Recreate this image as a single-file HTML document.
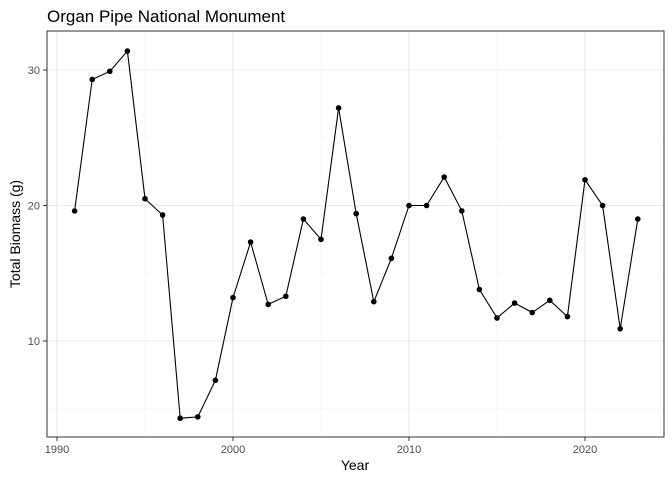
<!DOCTYPE html>
<html><head><meta charset="utf-8"><style>
body{margin:0;background:#fff;font-family:"Liberation Sans",Arial,sans-serif;}
svg text{font-family:"Liberation Sans",Arial,sans-serif;}
</style></head><body>
<svg id="chart" width="672" height="480" xmlns="http://www.w3.org/2000/svg">
<rect width="672" height="480" fill="#fff"/>
<text x="47" y="22" font-size="17" fill="#000">Organ Pipe National Monument</text>
<g id="grid"></g><g id="series"></g>
<rect x="47" y="31" width="617" height="406" fill="none" stroke="#333" stroke-width="1"/>
<g id="axes"></g>
<text x="355" y="470" font-size="14" text-anchor="middle">Year</text>
<text transform="translate(20,234) rotate(-90)" font-size="14" text-anchor="middle">Total Biomass (g)</text>
</svg>
<script>
const years=[1991,1992,1993,1994,1995,1996,1997,1998,1999,2000,2001,2002,2003,2004,2005,2006,2007,2008,2009,2010,2011,2012,2013,2014,2015,2016,2017,2018,2019,2020,2021,2022,2023];
const biomass=[19.6,29.3,29.9,31.4,20.5,19.3,4.3,4.4,7.1,13.2,17.3,12.7,13.3,19.0,17.5,27.2,19.4,12.9,16.1,20.0,20.0,22.1,19.6,13.8,11.7,12.8,12.1,13.0,11.8,21.9,20.0,10.9,19.0];
const xTicks=[1990,2000,2010,2020];
const yTicks=[10,20,30];
const xMinor=[1995,2005,2015];
const yMinor=[5,15,25];
const X=v=>57+(v-1990)*17.6;
const Y=v=>70+(30-v)*13.55;
const NS="http://www.w3.org/2000/svg";
function mk(t,a,p){const e=document.createElementNS(NS,t);for(const k in a)e.setAttribute(k,a[k]);p.appendChild(e);return e;}
const g=document.getElementById('grid'),ax=document.getElementById('axes'),s=document.getElementById('series');
xMinor.forEach(v=>{const e=mk('line',{x1:X(v),x2:X(v),y1:31,y2:437,stroke:'#f2f2f2','stroke-width':0.6},g);

});
yMinor.forEach(v=>{const e=mk('line',{x1:47,x2:664,y1:Y(v),y2:Y(v),stroke:'#f2f2f2','stroke-width':0.6},g);

});
xTicks.forEach(v=>{const e=mk('line',{x1:X(v),x2:X(v),y1:31,y2:437,stroke:'#ebebeb','stroke-width':1.1},g);


const t=mk('line',{x1:X(v),x2:X(v),y1:437,y2:441,stroke:'#333'},ax);


const l=mk('text',{x:X(v),y:453,'font-size':11,fill:'#4d4d4d','text-anchor':'middle'},ax);l.textContent=v;

});
yTicks.forEach(v=>{const e=mk('line',{x1:47,x2:664,y1:Y(v),y2:Y(v),stroke:'#ebebeb','stroke-width':1.1},g);


const t=mk('line',{x1:43,x2:47,y1:Y(v),y2:Y(v),stroke:'#333'},ax);


const l=mk('text',{x:40,y:Y(v)+4,'font-size':11,fill:'#4d4d4d','text-anchor':'end'},ax);l.textContent=v;

});
const pl=mk('polyline',{points:years.map((y,i)=>X(y)+','+Y(biomass[i])).join(' '),fill:'none',stroke:'#000','stroke-width':1.1},s);


years.forEach((y,i)=>{const c=mk('circle',{cx:X(y),cy:Y(biomass[i]),r:2.8,fill:'#000'},s);

});
</script>
</body></html>
